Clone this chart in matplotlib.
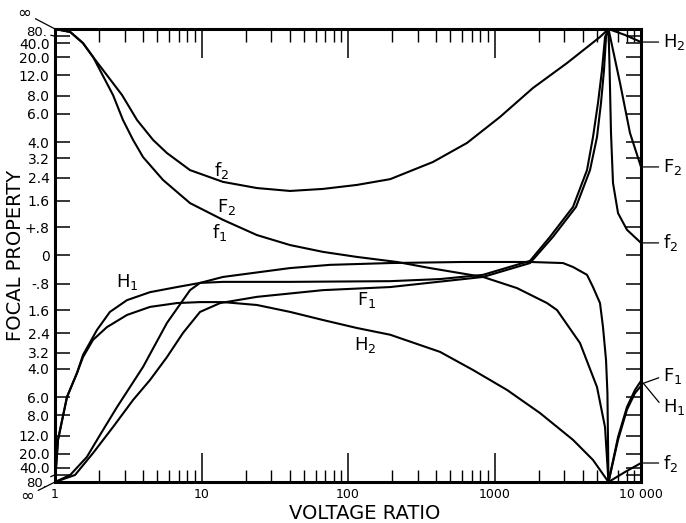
import numpy as np
import matplotlib.pyplot as plt
from matplotlib.ticker import LogLocator, NullFormatter

plt.rcParams["font.family"] = ["DejaVu Sans"]
plt.rcParams["mathtext.default"] = "regular"

INF = 1e6  # stands in for the infinite focal values at the axis ends

# ---- curves left of the singularity (voltage ratio, focal property) ----
f2_left_ratio = [1, 1.27, 1.55, 1.82, 2.87, 3.63, 4.67, 5.81, 8.35, 14.0, 23.9, 40.2,
                 67.5, 115, 194, 380, 649, 1090, 1830, 3125, 5250, 6000]
f2_left = [INF, 192, 41, 20.3, 8.1, 5.47, 4.13, 3.44, 2.69, 2.24, 2.02, 1.92,
           1.99, 2.13, 2.34, 3.03, 3.96, 5.72, 9.22, 16.6, 72, INF]

F2_left_ratio = [1, 1.27, 1.55, 1.82, 2.49, 2.91, 3.41, 3.99, 5.46, 8.35, 14.0, 23.9,
                 40.2, 67.5, 115, 216, 363, 835, 1424, 2283, 2671, 3834, 5008, 5680, 6000]
F2_left = [INF, 192, 41, 20.3, 8.1, 5.47, 4.13, 3.25, 2.31, 1.52, 1.01, 0.57,
           0.29, 0.10, -0.04, -0.18, -0.35, -0.60, -0.92, -1.37, -1.59, -2.78, -5.17, -10.0, -INF]

H2_left_ratio = [1, 1.048, 1.207, 1.413, 1.553, 1.817, 2.26, 3.10, 4.45, 6.80, 9.77, 14.0,
                 23.9, 40.2, 67.5, 115, 194, 425, 713, 1217, 2045, 3435, 4703, 6000]
H2_left = [-INF, -13.3, -5.98, -4.24, -3.40, -2.65, -2.17, -1.75, -1.49, -1.37, -1.34, -1.34,
           -1.43, -1.65, -1.92, -2.20, -2.45, -3.16, -4.07, -5.39, -7.72, -13.3, -26.0, -INF]

H1_left_ratio = [1, 1.048, 1.207, 1.413, 1.553, 1.934, 2.37, 3.10, 4.45, 6.80, 9.77, 14.0,
                 40.2, 194, 425, 835, 1747, 2393, 3435, 4280, 4703, 5088, 5418, 5681, 6000]
H1_left = [-INF, -13.3, -5.98, -4.24, -3.30, -2.27, -1.65, -1.28, -1.04, -0.89, -0.77, -0.74,
           -0.74, -0.72, -0.66, -0.54, -0.15, 0.52, 1.40, 2.69, 4.30, 7.11, 13.7, 72, INF]

f1_left_ratio = [1, 1.27, 1.65, 2.03, 2.65, 3.99, 5.81, 8.35, 9.77, 14.0, 40.2, 75.4,
                 194, 610, 1747, 2935, 3435, 4280, 4703, 5250, 5504, 5771, 5900, 6000]
f1_left = [-INF, -82, -22.8, -11.8, -6.99, -3.90, -2.02, -0.98, -0.77, -0.60, -0.35, -0.26,
           -0.21, -0.18, -0.18, -0.21, -0.32, -0.54, -0.89, -1.37, -2.17, -3.54, -5.64, -INF]

F1_left_ratio = [1, 1.37, 1.82, 2.49, 3.41, 4.45, 5.81, 7.48, 9.77, 13.4, 23.9, 67.5,
                 194, 835, 1747, 2506, 3600, 4486, 5008, 5333, 5591, 5771, 6000]
F1_left = [-INF, -82, -19.6, -9.97, -6.26, -4.68, -3.40, -2.38, -1.65, -1.37, -1.18, -0.98,
           -0.89, -0.60, -0.21, 0.52, 1.40, 2.69, 4.30, 7.11, 13.7, 72, INF]

# ---- curves right of the singularity ----
f2_right_ratio = [6000, 6100, 6240, 6440, 6970, 8020, 10000]
f2_right = [INF, 15.0, 4.55, 2.20, 1.21, 0.72, 0.35]

F2_right_ratio = [6000, 7190, 8410, 10000]
F2_right = [INF, 10.2, 4.55, 2.82]

H2_right_ratio = [6000, 7780, 10000]
H2_right = [INF, 96, 44]

F1_right_ratio = [6000, 6970, 8020, 9100, 10000]
F1_right = [-INF, -12.4, -6.99, -5.39, -4.74]

H1_right_ratio = [6000, 6970, 8020, 9100, 10000]
H1_right = [-INF, -13.3, -7.3, -5.64, -5.09]

f_low_right_ratio = [6000, 7780, 10000]
f_low_right = [-INF, -57.6, -30.2]

# ---- axis ticks ----
y_ticks = [-80, -40, -20, -12, -8, -6, -4, -3.2, -2.4, -1.6, -0.8, 0,
           0.8, 1.6, 2.4, 3.2, 4, 6, 8, 12, 20, 40, 80]
y_tick_labels = ["", "40.0", "20.0", "12.0", "8.0", "6.0", "4.0", "3.2", "2.4", "1.6", "-.8", "0",
                 "+.8", "1.6", "2.4", "3.2", "4.0", "6.0", "8.0", "12.0", "20.0", "40.0", ""]
x_ticks = [1, 10, 100, 1000, 10000]
x_tick_labels = ["1", "10", "100", "1000", "10 000"]

# labels written inside the plot: (text, ratio, value)
inner_labels = [
    ("f$_2$", 13.8, 2.69),
    ("F$_2$", 14.9, 1.40),
    ("f$_1$", 13.4, 0.63),
    ("H$_1$", 3.10, -0.74),
    ("F$_1$", 135, -1.28),
    ("H$_2$", 131, -2.86),
]


def to_angle(v):
    return np.arctan(np.asarray(v, dtype=float) / 4.0)


def from_angle(u):
    return 4.0 * np.tan(np.asarray(u, dtype=float))


fig = plt.figure(figsize=(6.86, 5.23), dpi=100)
ax = fig.add_axes([0.0802, 0.0784, 0.8542, 0.8662])
ax.set_xscale("log")
ax.set_yscale("function", functions=(to_angle, from_angle))
ax.set_xlim(1, 10000)
ax.set_ylim(-INF, INF)

curves = [
    (f2_left_ratio, f2_left), (F2_left_ratio, F2_left), (H2_left_ratio, H2_left),
    (H1_left_ratio, H1_left), (f1_left_ratio, f1_left), (F1_left_ratio, F1_left),
    (f2_right_ratio, f2_right), (F2_right_ratio, F2_right), (H2_right_ratio, H2_right),
    (F1_right_ratio, F1_right), (H1_right_ratio, H1_right), (f_low_right_ratio, f_low_right),
]
for ratio, values in curves:
    ax.plot(ratio, values, color="black", lw=1.5, solid_joinstyle="round")

for text, ratio, value in inner_labels:
    ax.text(ratio, value, text, fontsize=13, ha="center", va="center")

# axis styling
for spine in ax.spines.values():
    spine.set_linewidth(2.2)

ax.set_yticks(y_ticks)
ax.set_yticklabels(y_tick_labels)
ax.tick_params(axis="y", which="major", direction="in", length=11, width=1.1,
               left=True, right=True, labelsize=10, pad=4)
ax.yaxis.set_minor_locator(plt.NullLocator())

ax.set_xticks(x_ticks)
ax.set_xticklabels(x_tick_labels)
ax.xaxis.set_minor_locator(LogLocator(base=10, subs=np.arange(2, 10)))
ax.xaxis.set_minor_formatter(NullFormatter())
ax.tick_params(axis="x", which="major", direction="in", length=21, width=1.1,
               top=True, bottom=True, labelsize=9, pad=4)
ax.tick_params(axis="x", which="minor", direction="in", length=9, width=1.0,
               top=True, bottom=True)

ax.set_xlabel("VOLTAGE RATIO", fontsize=14)
ax.xaxis.set_label_coords(0.528, -0.048)
ax.set_ylabel("FOCAL PROPERTY", fontsize=14)
ax.yaxis.set_label_coords(-0.052, 0.5)

# infinity and 80 marks with leader lines on the left
leader = dict(arrowstyle="-", lw=0.9, color="black", shrinkA=1, shrinkB=0)
ax.annotate("∞", xy=(0, 1), xycoords="axes fraction", xytext=(-22, 11.5),
            textcoords="offset points", fontsize=12, ha="center", va="center",
            arrowprops=leader)
ax.annotate("∞", xy=(0, 0), xycoords="axes fraction", xytext=(-20, -10),
            textcoords="offset points", fontsize=12, ha="center", va="center",
            arrowprops=leader)
ytrans = ax.get_yaxis_transform()
ax.annotate("80.", xy=(0, 80), xycoords=ytrans, xytext=(-6, 3),
            textcoords="offset points", fontsize=9.5, ha="right", va="center",
            arrowprops=leader)
ax.annotate("80.", xy=(0, -80), xycoords=ytrans, xytext=(-6, -6),
            textcoords="offset points", fontsize=9.5, ha="right", va="center",
            arrowprops=leader)

# curve names at the right edge
right_labels = [
    ("H$_2$", 44, 0),
    ("F$_2$", 2.82, 0),
    ("f$_2$", 0.35, 0),
    ("F$_1$", -4.9, 5),
    ("H$_1$", -4.9, -17),
    ("f$_2$", -30.2, 0),
]
for text, value, dy in right_labels:
    ax.annotate(text, xy=(1.004, value), xycoords=ytrans, xytext=(14, dy),
                textcoords="offset points", fontsize=13, ha="left", va="center",
                arrowprops=dict(arrowstyle="-", lw=0.9, color="black",
                                shrinkA=1, shrinkB=0, relpos=(0, 0.5)))

fig.savefig("out.png", dpi=100)
plt.close(fig)
